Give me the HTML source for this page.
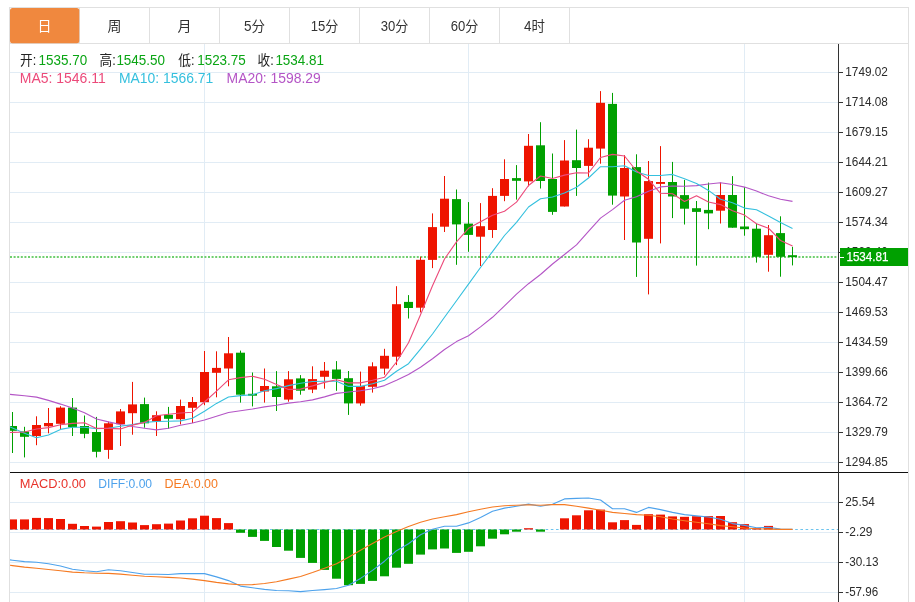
<!DOCTYPE html>
<html lang="zh-CN"><head><meta charset="utf-8"><title>K线图</title>
<style>html,body{margin:0;padding:0;background:#fff}body{width:915px;height:602px;overflow:hidden}svg{display:block}text{font-family:"Liberation Sans","Noto Sans CJK SC",sans-serif}</style></head><body>
<svg width="915" height="602" viewBox="0 0 915 602">
<rect width="915" height="602" fill="#fff"/>
<defs><clipPath id="cm"><rect x="10" y="44" width="828" height="428"/></clipPath><clipPath id="cd"><rect x="10" y="473" width="828" height="129"/></clipPath></defs>
<g fill="#e1ecf5" shape-rendering="crispEdges"><rect x="10" y="72" width="828" height="1"/><rect x="10" y="102" width="828" height="1"/><rect x="10" y="132" width="828" height="1"/><rect x="10" y="162" width="828" height="1"/><rect x="10" y="192" width="828" height="1"/><rect x="10" y="222" width="828" height="1"/><rect x="10" y="252" width="828" height="1"/><rect x="10" y="282" width="828" height="1"/><rect x="10" y="312" width="828" height="1"/><rect x="10" y="342" width="828" height="1"/><rect x="10" y="372" width="828" height="1"/><rect x="10" y="402" width="828" height="1"/><rect x="10" y="432" width="828" height="1"/><rect x="10" y="462" width="828" height="1"/><rect x="10" y="502" width="828" height="1"/><rect x="10" y="532" width="828" height="1"/><rect x="10" y="562" width="828" height="1"/><rect x="10" y="592" width="828" height="1"/><rect x="204" y="44" width="1" height="558"/><rect x="468" y="44" width="1" height="558"/><rect x="744" y="44" width="1" height="558"/></g>
<g fill="#e0e0e0" shape-rendering="crispEdges"><rect x="9" y="7" width="900" height="1"/><rect x="9" y="43" width="900" height="1"/><rect x="9" y="7" width="1" height="595"/><rect x="908" y="7" width="1" height="595"/><rect x="79" y="8" width="1" height="35"/><rect x="149" y="8" width="1" height="35"/><rect x="219" y="8" width="1" height="35"/><rect x="289" y="8" width="1" height="35"/><rect x="359" y="8" width="1" height="35"/><rect x="429" y="8" width="1" height="35"/><rect x="499" y="8" width="1" height="35"/><rect x="569" y="8" width="1" height="35"/></g>
<rect x="10" y="8" width="69.3" height="35.2" rx="2.5" fill="#f0883e"/>
<text x="44.5" y="30.6" font-size="14" text-anchor="middle" fill="#fff">日</text>
<text x="114.5" y="30.6" font-size="14" text-anchor="middle" fill="#333">周</text>
<text x="184.5" y="30.6" font-size="14" text-anchor="middle" fill="#333">月</text>
<text x="254.5" y="30.6" font-size="14" text-anchor="middle" fill="#333" textLength="21" lengthAdjust="spacingAndGlyphs">5分</text>
<text x="324.5" y="30.6" font-size="14" text-anchor="middle" fill="#333" textLength="27.6" lengthAdjust="spacingAndGlyphs">15分</text>
<text x="394.5" y="30.6" font-size="14" text-anchor="middle" fill="#333" textLength="27.6" lengthAdjust="spacingAndGlyphs">30分</text>
<text x="464.5" y="30.6" font-size="14" text-anchor="middle" fill="#333" textLength="27.6" lengthAdjust="spacingAndGlyphs">60分</text>
<text x="534.5" y="30.6" font-size="14" text-anchor="middle" fill="#333" textLength="20.9" lengthAdjust="spacingAndGlyphs">4时</text>
<line x1="10" y1="257" x2="836.5" y2="257" stroke="#6fcf6f" stroke-width="2" stroke-dasharray="2 1.6"/>
<g clip-path="url(#cm)"><g fill="#00a000"><rect x="12" y="412" width="1" height="41"/><rect x="8" y="426" width="9" height="4.8"/></g><g fill="#00a000"><rect x="24" y="426.8" width="1" height="30.6"/><rect x="20" y="431.5" width="9" height="5.3"/></g><g fill="#ee1400"><rect x="36" y="416.3" width="1" height="28.9"/><rect x="32" y="425" width="9" height="11.0"/></g><g fill="#ee1400"><rect x="48" y="408" width="1" height="25.3"/><rect x="44" y="423" width="9" height="3.3"/></g><g fill="#ee1400"><rect x="60" y="406.2" width="1" height="22.8"/><rect x="56" y="407.6" width="9" height="16.2"/></g><g fill="#00a000"><rect x="72" y="398" width="1" height="38"/><rect x="68" y="407.6" width="9" height="19.7"/></g><g fill="#00a000"><rect x="84" y="415.5" width="1" height="22.7"/><rect x="80" y="426" width="9" height="7.8"/></g><g fill="#00a000"><rect x="96" y="416.9" width="1" height="40.5"/><rect x="92" y="432" width="9" height="19.8"/></g><g fill="#ee1400"><rect x="108" y="421.6" width="1" height="37.2"/><rect x="104" y="423.3" width="9" height="26.6"/></g><g fill="#ee1400"><rect x="120" y="409" width="1" height="37"/><rect x="116" y="411.4" width="9" height="12.8"/></g><g fill="#ee1400"><rect x="132" y="381.9" width="1" height="52.8"/><rect x="128" y="404.4" width="9" height="8.8"/></g><g fill="#00a000"><rect x="144" y="397.6" width="1" height="30.1"/><rect x="140" y="404.1" width="9" height="19.2"/></g><g fill="#ee1400"><rect x="156" y="411.3" width="1" height="24.7"/><rect x="152" y="415.2" width="9" height="6.3"/></g><g fill="#00a000"><rect x="168" y="406.9" width="1" height="21.9"/><rect x="164" y="414.8" width="9" height="4.0"/></g><g fill="#ee1400"><rect x="180" y="399.6" width="1" height="24.8"/><rect x="176" y="406" width="9" height="13.2"/></g><g fill="#ee1400"><rect x="192" y="397" width="1" height="26"/><rect x="188" y="402" width="9" height="5.8"/></g><g fill="#ee1400"><rect x="204" y="351" width="1" height="54.2"/><rect x="200" y="372" width="9" height="30.2"/></g><g fill="#ee1400"><rect x="216" y="351.3" width="1" height="46"/><rect x="212" y="367.9" width="9" height="4.9"/></g><g fill="#ee1400"><rect x="228" y="337" width="1" height="49.3"/><rect x="224" y="353.3" width="9" height="15.2"/></g><g fill="#00a000"><rect x="240" y="350.6" width="1" height="52"/><rect x="236" y="352.7" width="9" height="42.0"/></g><g fill="#00a000"><rect x="252" y="372.5" width="1" height="33.9"/><rect x="248" y="393.8" width="9" height="1.9"/></g><g fill="#ee1400"><rect x="264" y="368.5" width="1" height="34.1"/><rect x="260" y="386" width="9" height="5.5"/></g><g fill="#00a000"><rect x="276" y="371.1" width="1" height="39.9"/><rect x="272" y="386.3" width="9" height="10.7"/></g><g fill="#ee1400"><rect x="288" y="371.1" width="1" height="30.6"/><rect x="284" y="379.3" width="9" height="20.3"/></g><g fill="#00a000"><rect x="300" y="375.1" width="1" height="19.6"/><rect x="296" y="378.4" width="9" height="12.3"/></g><g fill="#ee1400"><rect x="312" y="366.3" width="1" height="26.8"/><rect x="308" y="379.1" width="9" height="10.5"/></g><g fill="#ee1400"><rect x="324" y="362" width="1" height="26.7"/><rect x="320" y="370.7" width="9" height="6.1"/></g><g fill="#00a000"><rect x="336" y="361.1" width="1" height="29.7"/><rect x="332" y="369.5" width="9" height="9.4"/></g><g fill="#00a000"><rect x="348" y="371" width="1" height="43.9"/><rect x="344" y="378.2" width="9" height="25.2"/></g><g fill="#ee1400"><rect x="360" y="371.6" width="1" height="34.1"/><rect x="356" y="386.1" width="9" height="17.3"/></g><g fill="#ee1400"><rect x="372" y="362.3" width="1" height="30.3"/><rect x="368" y="366.3" width="9" height="20.5"/></g><g fill="#ee1400"><rect x="384" y="348.8" width="1" height="25.9"/><rect x="380" y="355.8" width="9" height="12.8"/></g><g fill="#ee1400"><rect x="396" y="286.2" width="1" height="78.9"/><rect x="392" y="304.2" width="9" height="52.5"/></g><g fill="#00a000"><rect x="408" y="295.1" width="1" height="23.4"/><rect x="404" y="301.9" width="9" height="6.1"/></g><g fill="#ee1400"><rect x="420" y="256.7" width="1" height="55.7"/><rect x="416" y="259.8" width="9" height="47.9"/></g><g fill="#ee1400"><rect x="432" y="213.4" width="1" height="54.7"/><rect x="428" y="227.1" width="9" height="32.8"/></g><g fill="#ee1400"><rect x="444" y="176" width="1" height="56"/><rect x="440" y="198.7" width="9" height="28.0"/></g><g fill="#00a000"><rect x="456" y="189.5" width="1" height="75.3"/><rect x="452" y="199.1" width="9" height="25.3"/></g><g fill="#00a000"><rect x="468" y="202.1" width="1" height="49.7"/><rect x="464" y="223.6" width="9" height="11.3"/></g><g fill="#ee1400"><rect x="480" y="203.1" width="1" height="62.9"/><rect x="476" y="226.2" width="9" height="10.5"/></g><g fill="#ee1400"><rect x="492" y="188.2" width="1" height="49.7"/><rect x="488" y="195.9" width="9" height="34.1"/></g><g fill="#ee1400"><rect x="504" y="159.3" width="1" height="41.9"/><rect x="500" y="179" width="9" height="16.9"/></g><g fill="#00a000"><rect x="516" y="165.1" width="1" height="34.5"/><rect x="512" y="178.1" width="9" height="2.7"/></g><g fill="#ee1400"><rect x="528" y="134" width="1" height="52.4"/><rect x="524" y="145.8" width="9" height="35.6"/></g><g fill="#00a000"><rect x="540" y="122.2" width="1" height="66.3"/><rect x="536" y="145.3" width="9" height="35.7"/></g><g fill="#00a000"><rect x="552" y="153.5" width="1" height="61.3"/><rect x="548" y="179" width="9" height="32.9"/></g><g fill="#ee1400"><rect x="564" y="140.1" width="1" height="66.4"/><rect x="560" y="160.5" width="9" height="46.0"/></g><g fill="#00a000"><rect x="576" y="129.6" width="1" height="66.3"/><rect x="572" y="160.2" width="9" height="7.8"/></g><g fill="#ee1400"><rect x="588" y="139.2" width="1" height="37.6"/><rect x="584" y="147.7" width="9" height="18.2"/></g><g fill="#ee1400"><rect x="600" y="91.1" width="1" height="72.6"/><rect x="596" y="102.8" width="9" height="45.8"/></g><g fill="#00a000"><rect x="612" y="92.9" width="1" height="111.8"/><rect x="608" y="103.9" width="9" height="91.7"/></g><g fill="#ee1400"><rect x="624" y="155.2" width="1" height="84.8"/><rect x="620" y="168" width="9" height="28.5"/></g><g fill="#00a000"><rect x="636" y="154.3" width="1" height="122.6"/><rect x="632" y="167.1" width="9" height="75.4"/></g><g fill="#ee1400"><rect x="648" y="161" width="1" height="133.4"/><rect x="644" y="181.1" width="9" height="57.7"/></g><g fill="#ee1400"><rect x="660" y="146.1" width="1" height="97.3"/><rect x="656" y="182" width="9" height="1.9"/></g><g fill="#00a000"><rect x="672" y="161.9" width="1" height="56.2"/><rect x="668" y="182" width="9" height="14.5"/></g><g fill="#00a000"><rect x="684" y="179.9" width="1" height="44.6"/><rect x="680" y="195.1" width="9" height="13.6"/></g><g fill="#00a000"><rect x="696" y="201" width="1" height="64.6"/><rect x="692" y="208.2" width="9" height="3.7"/></g><g fill="#00a000"><rect x="708" y="182.6" width="1" height="46.6"/><rect x="704" y="209.9" width="9" height="3.5"/></g><g fill="#ee1400"><rect x="720" y="182.4" width="1" height="41.1"/><rect x="716" y="195" width="9" height="15.7"/></g><g fill="#00a000"><rect x="732" y="176.1" width="1" height="51.6"/><rect x="728" y="195" width="9" height="32.7"/></g><g fill="#00a000"><rect x="744" y="187.1" width="1" height="48.6"/><rect x="740" y="226.5" width="9" height="2.7"/></g><g fill="#00a000"><rect x="756" y="223.7" width="1" height="38.9"/><rect x="752" y="228.7" width="9" height="28.1"/></g><g fill="#ee1400"><rect x="768" y="225" width="1" height="46.7"/><rect x="764" y="235.2" width="9" height="19.6"/></g><g fill="#00a000"><rect x="780" y="216.3" width="1" height="60.4"/><rect x="776" y="233.1" width="9" height="23.7"/></g><g fill="#00a000"><rect x="792" y="246.8" width="1" height="18.6"/><rect x="788" y="255.2" width="9" height="1.9"/></g></g>
<polyline clip-path="url(#cm)" points="0.5,393.4 12.5,394.6 24.5,395.8 36.5,397.1 48.5,400.4 60.5,404.1 72.5,408.1 84.5,412.8 96.5,419 108.5,421.9 120.5,424.5 132.5,426.5 144.5,428.2 156.5,429.9 168.5,428.3 180.5,425.3 192.5,423 204.5,420 216.5,416.2 228.5,412.5 240.5,410.8 252.5,409 264.5,406.9 276.5,405.2 288.5,403.1 300.5,401.7 312.5,399.9 324.5,396.9 336.5,393.4 348.5,392 360.5,390.8 372.5,388.7 384.5,385.6 396.5,380.3 408.5,374.5 420.5,367.2 432.5,358.8 444.5,349.5 456.5,341.6 468.5,335.7 480.5,326.9 492.5,317.3 504.5,305.9 516.5,294.2 528.5,283.7 540.5,274.5 552.5,264 564.5,254.5 576.5,244.9 588.5,231.4 600.5,218.1 612.5,209.6 624.5,200.3 636.5,196.8 648.5,191.2 660.5,186.9 672.5,186 684.5,186.3 696.5,185.6 708.5,184 720.5,182.7 732.5,184.5 744.5,187.1 756.5,191.1 768.5,195.8 780.5,199.3 792.5,201.4" fill="none" stroke="#b455c6" stroke-width="1.1" stroke-linejoin="round"/>
<polyline clip-path="url(#cm)" points="0.5,422.7 12.5,428 24.5,433.3 36.5,437.7 48.5,435 60.5,429.4 72.5,427.3 84.5,427.3 96.5,428.6 108.5,428.2 120.5,426.3 132.5,424.5 144.5,422.4 156.5,421.5 168.5,421.3 180.5,420.9 192.5,418.3 204.5,411.3 216.5,403.4 228.5,397 240.5,395.6 252.5,394.7 264.5,390.8 276.5,388.6 288.5,385.6 300.5,383.3 312.5,381.5 324.5,381.2 336.5,381.2 348.5,386.4 360.5,386.4 372.5,383.8 384.5,380.3 396.5,371.2 408.5,363.7 420.5,349.2 432.5,334 444.5,317.3 456.5,300.7 468.5,284.1 480.5,267.5 492.5,251.6 504.5,235.5 516.5,222.3 528.5,207 540.5,198.7 552.5,197 564.5,193.1 576.5,187.2 588.5,178 600.5,166.7 612.5,166.8 624.5,165.7 636.5,172 648.5,175.5 660.5,175.5 672.5,174.4 684.5,178.8 696.5,183.4 708.5,190.4 720.5,199.2 732.5,202.8 744.5,208.1 756.5,209.8 768.5,215.9 780.5,222.4 792.5,228.4" fill="none" stroke="#35c0de" stroke-width="1.1" stroke-linejoin="round"/>
<polyline clip-path="url(#cm)" points="0.5,432.8 12.5,432.4 24.5,432 36.5,429 48.5,427.6 60.5,424.7 72.5,423.4 84.5,422.8 96.5,428.4 108.5,428.4 120.5,428.9 132.5,425.1 144.5,422.4 156.5,415.8 168.5,414.3 180.5,413 192.5,412.2 204.5,402 216.5,391.2 228.5,379.8 240.5,377.6 252.5,376.2 264.5,379.3 276.5,384.5 288.5,389.4 300.5,389.1 312.5,385.9 324.5,382.4 336.5,379.8 348.5,382.9 360.5,382.9 372.5,380.3 384.5,377.2 396.5,362 408.5,342.7 420.5,314.7 432.5,285.8 444.5,259 456.5,241.9 468.5,228.3 480.5,221.8 492.5,215.2 504.5,211.3 516.5,202.1 528.5,185.5 540.5,176 552.5,178.5 564.5,175.1 576.5,172.8 588.5,173 600.5,157.5 612.5,154.4 624.5,156 636.5,171 648.5,179.3 660.5,193.3 672.5,193.8 684.5,201.5 696.5,195.7 708.5,202 720.5,204.6 732.5,210.7 744.5,215.1 756.5,223.8 768.5,228.2 780.5,240.5 792.5,246.1" fill="none" stroke="#ec4a7a" stroke-width="1.1" stroke-linejoin="round"/>
<text x="20" y="65" font-size="14" fill="#222" textLength="16.2" lengthAdjust="spacingAndGlyphs">开:</text>
<text x="38.6" y="65" font-size="14" fill="#0aa514" textLength="48.6" lengthAdjust="spacingAndGlyphs">1535.70</text>
<text x="99.5" y="65" font-size="14" fill="#222" textLength="16.2" lengthAdjust="spacingAndGlyphs">高:</text>
<text x="116.4" y="65" font-size="14" fill="#0aa514" textLength="48.6" lengthAdjust="spacingAndGlyphs">1545.50</text>
<text x="178.3" y="65" font-size="14" fill="#222" textLength="16.2" lengthAdjust="spacingAndGlyphs">低:</text>
<text x="197.2" y="65" font-size="14" fill="#0aa514" textLength="48.6" lengthAdjust="spacingAndGlyphs">1523.75</text>
<text x="257.6" y="65" font-size="14" fill="#222" textLength="16.2" lengthAdjust="spacingAndGlyphs">收:</text>
<text x="275.4" y="65" font-size="14" fill="#0aa514" textLength="48.6" lengthAdjust="spacingAndGlyphs">1534.81</text>
<text x="19.8" y="83" font-size="14" fill="#ec4a7a" textLength="86" lengthAdjust="spacingAndGlyphs">MA5: 1546.11</text>
<text x="119" y="83" font-size="14" fill="#35c0de" textLength="94.3" lengthAdjust="spacingAndGlyphs">MA10: 1566.71</text>
<text x="226.6" y="83" font-size="14" fill="#b455c6" textLength="94.2" lengthAdjust="spacingAndGlyphs">MA20: 1598.29</text>
<rect x="10" y="472" width="898" height="1" fill="#111" shape-rendering="crispEdges"/>
<line x1="10" y1="529.5" x2="838" y2="529.5" stroke="#6cc4ee" stroke-width="1.2" stroke-dasharray="2.6 2.6"/>
<g clip-path="url(#cd)"><rect x="8" y="519.4" width="9" height="10.1" fill="#ee1400"/><rect x="20" y="519.4" width="9" height="10.1" fill="#ee1400"/><rect x="32" y="517.9" width="9" height="11.6" fill="#ee1400"/><rect x="44" y="518.1" width="9" height="11.4" fill="#ee1400"/><rect x="56" y="519" width="9" height="10.5" fill="#ee1400"/><rect x="68" y="523.8" width="9" height="5.7" fill="#ee1400"/><rect x="80" y="526" width="9" height="3.5" fill="#ee1400"/><rect x="92" y="526.6" width="9" height="2.9" fill="#ee1400"/><rect x="104" y="522" width="9" height="7.5" fill="#ee1400"/><rect x="116" y="521.2" width="9" height="8.3" fill="#ee1400"/><rect x="128" y="522.5" width="9" height="7.0" fill="#ee1400"/><rect x="140" y="525.1" width="9" height="4.4" fill="#ee1400"/><rect x="152" y="524.2" width="9" height="5.3" fill="#ee1400"/><rect x="164" y="523.6" width="9" height="5.9" fill="#ee1400"/><rect x="176" y="520.5" width="9" height="9.0" fill="#ee1400"/><rect x="188" y="518.3" width="9" height="11.2" fill="#ee1400"/><rect x="200" y="515.7" width="9" height="13.8" fill="#ee1400"/><rect x="212" y="518.1" width="9" height="11.4" fill="#ee1400"/><rect x="224" y="523.1" width="9" height="6.4" fill="#ee1400"/><rect x="236" y="529.5" width="9" height="3.3" fill="#00a000"/><rect x="248" y="529.5" width="9" height="7.4" fill="#00a000"/><rect x="260" y="529.5" width="9" height="11.4" fill="#00a000"/><rect x="272" y="529.5" width="9" height="17.5" fill="#00a000"/><rect x="284" y="529.5" width="9" height="21.2" fill="#00a000"/><rect x="296" y="529.5" width="9" height="28.4" fill="#00a000"/><rect x="308" y="529.5" width="9" height="33.4" fill="#00a000"/><rect x="320" y="529.5" width="9" height="40.4" fill="#00a000"/><rect x="332" y="529.5" width="9" height="49.2" fill="#00a000"/><rect x="344" y="529.5" width="9" height="55.7" fill="#00a000"/><rect x="356" y="529.5" width="9" height="54.4" fill="#00a000"/><rect x="368" y="529.5" width="9" height="51.4" fill="#00a000"/><rect x="380" y="529.5" width="9" height="46.8" fill="#00a000"/><rect x="392" y="529.5" width="9" height="38.2" fill="#00a000"/><rect x="404" y="529.5" width="9" height="34.3" fill="#00a000"/><rect x="416" y="529.5" width="9" height="25.1" fill="#00a000"/><rect x="428" y="529.5" width="9" height="19.9" fill="#00a000"/><rect x="440" y="529.5" width="9" height="19.0" fill="#00a000"/><rect x="452" y="529.5" width="9" height="23.4" fill="#00a000"/><rect x="464" y="529.5" width="9" height="22.3" fill="#00a000"/><rect x="476" y="529.5" width="9" height="16.8" fill="#00a000"/><rect x="488" y="529.5" width="9" height="9.2" fill="#00a000"/><rect x="500" y="529.5" width="9" height="4.8" fill="#00a000"/><rect x="512" y="529.5" width="9" height="2.2" fill="#00a000"/><rect x="524" y="528.2" width="9" height="1.3" fill="#ee1400"/><rect x="536" y="529.5" width="9" height="2.2" fill="#00a000"/><rect x="560" y="518.3" width="9" height="11.2" fill="#ee1400"/><rect x="572" y="515.3" width="9" height="14.2" fill="#ee1400"/><rect x="584" y="510.3" width="9" height="19.2" fill="#ee1400"/><rect x="596" y="509.6" width="9" height="19.9" fill="#ee1400"/><rect x="608" y="522.3" width="9" height="7.2" fill="#ee1400"/><rect x="620" y="520.1" width="9" height="9.4" fill="#ee1400"/><rect x="632" y="524.9" width="9" height="4.6" fill="#ee1400"/><rect x="644" y="514.2" width="9" height="15.3" fill="#ee1400"/><rect x="656" y="514.6" width="9" height="14.9" fill="#ee1400"/><rect x="668" y="516.4" width="9" height="13.1" fill="#ee1400"/><rect x="680" y="516.8" width="9" height="12.7" fill="#ee1400"/><rect x="692" y="516.2" width="9" height="13.3" fill="#ee1400"/><rect x="704" y="516.1" width="9" height="13.4" fill="#ee1400"/><rect x="716" y="516" width="9" height="13.5" fill="#ee1400"/><rect x="728" y="522.2" width="9" height="7.3" fill="#ee1400"/><rect x="740" y="524.1" width="9" height="5.4" fill="#ee1400"/><rect x="752" y="528.2" width="9" height="1.3" fill="#ee1400"/><rect x="764" y="525.9" width="9" height="3.6" fill="#ee1400"/></g>
<polyline clip-path="url(#cd)" points="0.5,558.8 12.5,560.2 24.5,561.6 36.5,562.3 48.5,563.8 60.5,566 72.5,569.3 84.5,570.8 96.5,571.7 108.5,569.7 120.5,570.8 132.5,572.5 144.5,574.3 156.5,574.3 168.5,574.5 180.5,573.6 192.5,573.6 204.5,573.6 216.5,576.9 228.5,580.6 240.5,586.1 252.5,587.8 264.5,589.4 276.5,590.5 288.5,590.7 300.5,591.6 312.5,590.5 324.5,589.6 336.5,588.5 348.5,585.2 360.5,578.4 372.5,570.4 384.5,561.2 396.5,550.7 408.5,543.7 420.5,534.7 432.5,529.3 444.5,526.2 456.5,526.2 468.5,522.9 480.5,517.5 492.5,511.3 504.5,508.1 516.5,506.3 528.5,504.1 540.5,506.3 552.5,504.3 564.5,498.9 576.5,498.4 588.5,498 600.5,500 612.5,508.7 624.5,508.7 636.5,512.4 648.5,507.4 660.5,509.6 672.5,512.4 684.5,514.6 696.5,515.9 708.5,517 720.5,519.2 732.5,523.6 744.5,525.4 756.5,527.7 768.5,527.3 780.5,529.1 792.5,529.4" fill="none" stroke="#4da2ec" stroke-width="1.1" stroke-linejoin="round"/>
<polyline clip-path="url(#cd)" points="0.5,564.1 12.5,565.6 24.5,567.1 36.5,568.2 48.5,569.5 60.5,570.8 72.5,572.1 84.5,572.8 96.5,573.2 108.5,573.4 120.5,574.1 132.5,575.2 144.5,576.3 156.5,576.7 168.5,577.4 180.5,578 192.5,579.1 204.5,580.6 216.5,582.4 228.5,583.9 240.5,584.8 252.5,584.6 264.5,583.5 276.5,581.7 288.5,579.1 300.5,576.5 312.5,572.5 324.5,568.2 336.5,563.8 348.5,557.2 360.5,550.3 372.5,543.5 384.5,537.1 396.5,531.5 408.5,526.6 420.5,522.3 432.5,519 444.5,516.8 456.5,514.6 468.5,511.8 480.5,509.2 492.5,507 504.5,505.7 516.5,505.2 528.5,504.8 540.5,505.2 552.5,504.6 564.5,504.6 576.5,506.3 588.5,508.1 600.5,510.3 612.5,512.4 624.5,513.5 636.5,514.6 648.5,515.3 660.5,516.8 672.5,519 684.5,520.7 696.5,522.3 708.5,523.8 720.5,525.6 732.5,526.8 744.5,528 756.5,528.7 768.5,529.1 780.5,529.4 792.5,529.4" fill="none" stroke="#f57a22" stroke-width="1.1" stroke-linejoin="round"/>
<text x="19.8" y="488" font-size="13.5" fill="#e8322a" textLength="66.2" lengthAdjust="spacingAndGlyphs">MACD:0.00</text>
<text x="98.3" y="488" font-size="13.5" fill="#4da2ec" textLength="53.8" lengthAdjust="spacingAndGlyphs">DIFF:0.00</text>
<text x="164.6" y="488" font-size="13.5" fill="#f57a22" textLength="53.4" lengthAdjust="spacingAndGlyphs">DEA:0.00</text>
<g fill="#333" shape-rendering="crispEdges"><rect x="838" y="44" width="1" height="558"/><rect x="839" y="72" width="4" height="1"/><rect x="839" y="102" width="4" height="1"/><rect x="839" y="132" width="4" height="1"/><rect x="839" y="162" width="4" height="1"/><rect x="839" y="192" width="4" height="1"/><rect x="839" y="222" width="4" height="1"/><rect x="839" y="252" width="4" height="1"/><rect x="839" y="282" width="4" height="1"/><rect x="839" y="312" width="4" height="1"/><rect x="839" y="342" width="4" height="1"/><rect x="839" y="372" width="4" height="1"/><rect x="839" y="402" width="4" height="1"/><rect x="839" y="432" width="4" height="1"/><rect x="839" y="462" width="4" height="1"/><rect x="839" y="502" width="4" height="1"/><rect x="839" y="532" width="4" height="1"/><rect x="839" y="562" width="4" height="1"/><rect x="839" y="592" width="4" height="1"/></g>
<text x="845.3" y="76.4" font-size="12.8" fill="#2b2b2b" textLength="42.6" lengthAdjust="spacingAndGlyphs">1749.02</text>
<text x="845.3" y="106.4" font-size="12.8" fill="#2b2b2b" textLength="42.6" lengthAdjust="spacingAndGlyphs">1714.08</text>
<text x="845.3" y="136.4" font-size="12.8" fill="#2b2b2b" textLength="42.6" lengthAdjust="spacingAndGlyphs">1679.15</text>
<text x="845.3" y="166.4" font-size="12.8" fill="#2b2b2b" textLength="42.6" lengthAdjust="spacingAndGlyphs">1644.21</text>
<text x="845.3" y="196.4" font-size="12.8" fill="#2b2b2b" textLength="42.6" lengthAdjust="spacingAndGlyphs">1609.27</text>
<text x="845.3" y="226.4" font-size="12.8" fill="#2b2b2b" textLength="42.6" lengthAdjust="spacingAndGlyphs">1574.34</text>
<text x="845.3" y="255.9" font-size="12.8" fill="#2b2b2b" textLength="42.6" lengthAdjust="spacingAndGlyphs">1539.40</text>
<text x="845.3" y="286.4" font-size="12.8" fill="#2b2b2b" textLength="42.6" lengthAdjust="spacingAndGlyphs">1504.47</text>
<text x="845.3" y="316.4" font-size="12.8" fill="#2b2b2b" textLength="42.6" lengthAdjust="spacingAndGlyphs">1469.53</text>
<text x="845.3" y="346.4" font-size="12.8" fill="#2b2b2b" textLength="42.6" lengthAdjust="spacingAndGlyphs">1434.59</text>
<text x="845.3" y="376.4" font-size="12.8" fill="#2b2b2b" textLength="42.6" lengthAdjust="spacingAndGlyphs">1399.66</text>
<text x="845.3" y="406.4" font-size="12.8" fill="#2b2b2b" textLength="42.6" lengthAdjust="spacingAndGlyphs">1364.72</text>
<text x="845.3" y="436.4" font-size="12.8" fill="#2b2b2b" textLength="42.6" lengthAdjust="spacingAndGlyphs">1329.79</text>
<text x="845.3" y="466.4" font-size="12.8" fill="#2b2b2b" textLength="42.6" lengthAdjust="spacingAndGlyphs">1294.85</text>
<text x="845.3" y="506.4" font-size="12.8" fill="#2b2b2b" textLength="29.5" lengthAdjust="spacingAndGlyphs">25.54</text>
<text x="845.3" y="536.4" font-size="12.8" fill="#2b2b2b" textLength="27.2" lengthAdjust="spacingAndGlyphs">-2.29</text>
<text x="845.3" y="566.4" font-size="12.8" fill="#2b2b2b" textLength="33.3" lengthAdjust="spacingAndGlyphs">-30.13</text>
<text x="845.3" y="596.4" font-size="12.8" fill="#2b2b2b" textLength="32.9" lengthAdjust="spacingAndGlyphs">-57.96</text>
<rect x="840" y="248" width="68" height="18" fill="#00a000" shape-rendering="crispEdges"/><rect x="840" y="257" width="4" height="1" fill="#fff" shape-rendering="crispEdges"/>
<text stroke="#fff" stroke-width="0.25" x="846.4" y="261.1" font-size="12.8" fill="#fff" textLength="42.2" lengthAdjust="spacingAndGlyphs">1534.81</text>
</svg></body></html>
